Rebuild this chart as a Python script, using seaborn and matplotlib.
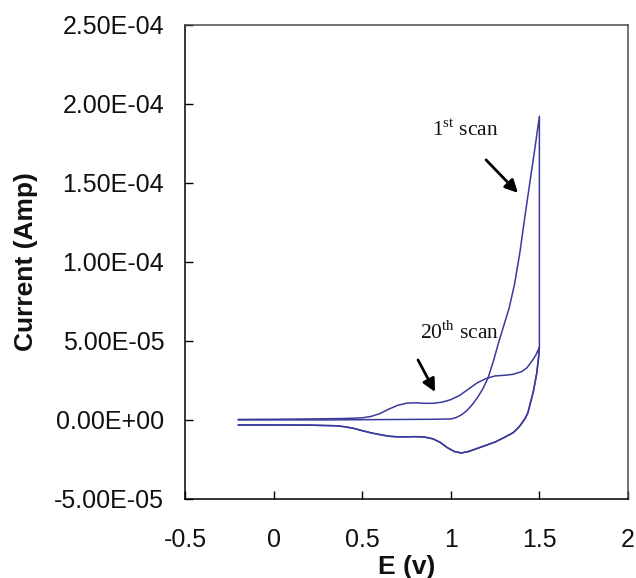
import numpy as np
import pandas as pd
import matplotlib
matplotlib.use("Agg")
import matplotlib.pyplot as plt
from matplotlib.ticker import FuncFormatter
import seaborn as sns

# Cyclic voltammogram: potential E (V) and current (A)
scan1_fwd_E = [-0.2, 0.0, 0.3, 0.6, 0.9, 1.0, 1.03, 1.06, 1.09, 1.12, 1.15,
               1.18, 1.21, 1.24, 1.27, 1.30, 1.33, 1.36, 1.39, 1.42, 1.45,
               1.475, 1.5]
scan1_fwd_I = [0.0, 0.0, 0.0, 0.2e-6, 0.4e-6, 0.6e-6, 1.5e-6, 3.2e-6, 5.8e-6,
               9.5e-6, 1.4e-5, 1.95e-5, 2.65e-5, 3.7e-5, 4.9e-5, 6.0e-5,
               7.1e-5, 8.6e-5, 1.06e-4, 1.3e-4, 1.53e-4, 1.72e-4, 1.92e-4]

scan20_fwd_E = [-0.2, 0.0, 0.2, 0.4, 0.5, 0.55, 0.6, 0.65, 0.7, 0.75, 0.8,
                0.85, 0.9, 0.95, 1.0, 1.05, 1.1, 1.15, 1.2, 1.25, 1.3, 1.35,
                1.4, 1.43, 1.46, 1.48, 1.5]
scan20_fwd_I = [0.3e-6, 0.4e-6, 0.6e-6, 0.9e-6, 1.3e-6, 2.2e-6, 4.0e-6,
                6.8e-6, 9.2e-6, 1.06e-5, 1.08e-5, 1.05e-5, 1.05e-5, 1.12e-5,
                1.28e-5, 1.55e-5, 1.95e-5, 2.35e-5, 2.62e-5, 2.78e-5,
                2.82e-5, 2.88e-5, 3.05e-5, 3.3e-5, 3.75e-5, 4.1e-5, 4.6e-5]

# Reverse sweep from 1.5 V back to -0.2 V
rev_E = [1.5, 1.495, 1.485, 1.475, 1.465, 1.45, 1.435, 1.42, 1.39, 1.37,
         1.35, 1.3, 1.25, 1.2, 1.15, 1.1, 1.06, 1.02, 0.98, 0.94, 0.9, 0.85,
         0.8, 0.75, 0.7, 0.65, 0.6, 0.55, 0.5, 0.45, 0.4, 0.35, 0.2, 0.0,
         -0.2]
rev_I = [4.6e-5, 3.9e-5, 2.95e-5, 2.34e-5, 1.75e-5, 1.1e-5, 4.5e-6, 1.0e-6,
         -3.8e-6, -6.2e-6, -8.2e-6, -1.12e-5, -1.4e-5, -1.6e-5, -1.8e-5,
         -2.0e-5, -2.09e-5, -2.0e-5, -1.75e-5, -1.42e-5, -1.2e-5, -1.08e-5,
         -1.06e-5, -1.07e-5, -1.07e-5, -1.03e-5, -9.3e-6, -8.2e-6, -6.8e-6,
         -5.3e-6, -4.3e-6, -3.7e-6, -3.3e-6, -3.2e-6, -3.2e-6]

x_ticks = [-0.5, 0, 0.5, 1, 1.5, 2]
y_ticks = [-5e-5, 0, 5e-5, 1e-4, 1.5e-4, 2e-4, 2.5e-4]

frames = []
for name, fE, fI in [("1st", scan1_fwd_E, scan1_fwd_I),
                     ("20th", scan20_fwd_E, scan20_fwd_I)]:
    E = list(fE) + list(rev_E)
    I = list(fI) + list(rev_I)
    frames.append(pd.DataFrame({"E": E, "I": I, "scan": name,
                                "step": np.arange(len(E))}))
df = pd.concat(frames, ignore_index=True)

sns.set_theme(style="white")
plt.rcParams["font.family"] = ["Liberation Sans", "DejaVu Sans"]
plt.rcParams["mathtext.fontset"] = "custom"
plt.rcParams["mathtext.rm"] = "Liberation Serif"

fig = plt.figure(figsize=(6.36, 5.78), dpi=100)
ax = fig.add_axes([0.2909, 0.1367, 0.6965, 0.8209])

line_color = "#3a3a9c"
for name, sub in df.groupby("scan"):
    sns.lineplot(data=sub, x="E", y="I", sort=False, estimator=None,
                 color=line_color, linewidth=1.1, ax=ax)

ax.set_xlim(-0.5, 2)
ax.set_ylim(-5e-5, 2.5e-4)
ax.set_xticks(x_ticks)
ax.set_yticks(y_ticks)
ax.xaxis.set_major_formatter(FuncFormatter(lambda v, p: f"{v:g}"))
ax.yaxis.set_major_formatter(FuncFormatter(lambda v, p: f"{v:.2E}"))

ax.tick_params(axis="both", which="major", direction="in", length=6,
               width=1, color="black", labelsize=18, labelcolor="#111111",
               bottom=True, left=True, top=False, right=False)
ax.tick_params(axis="x", pad=21)
ax.tick_params(axis="y", pad=15)

for side in ["left", "bottom"]:
    ax.spines[side].set_color("black")
    ax.spines[side].set_linewidth(1.1)
for side in ["top", "right"]:
    ax.spines[side].set_color("#4a4a4a")
    ax.spines[side].set_linewidth(1.1)

ax.set_xlabel("E (v)", fontsize=19, fontweight="bold", color="#111111")
ax.set_ylabel("Current (Amp)", fontsize=19, fontweight="bold", color="#111111")
ax.xaxis.set_label_coords(0.5, -0.118)
ax.yaxis.set_label_coords(-0.332, 0.5)

arrow = dict(arrowstyle="-|>", color="black", lw=2, mutation_scale=19,
             shrinkA=0, shrinkB=0)
ax.annotate("", xy=(0.911, 1.77e-5), xytext=(0.815, 3.79e-5),
            arrowprops=arrow)
ax.annotate("", xy=(1.379, 1.435e-4), xytext=(1.199, 1.644e-4),
            arrowprops=arrow)

ax.text(1.05, 5.5e-5, r"20$^{\rm th}$ scan", fontsize=15.5,
        family="Liberation Serif", ha="center", va="center", color="#111111")
ax.text(1.08, 1.833e-4, r"1$^{\rm st}$ scan", fontsize=15.5,
        family="Liberation Serif", ha="center", va="center", color="#111111")

fig.savefig("out.png", dpi=100, facecolor="white")
